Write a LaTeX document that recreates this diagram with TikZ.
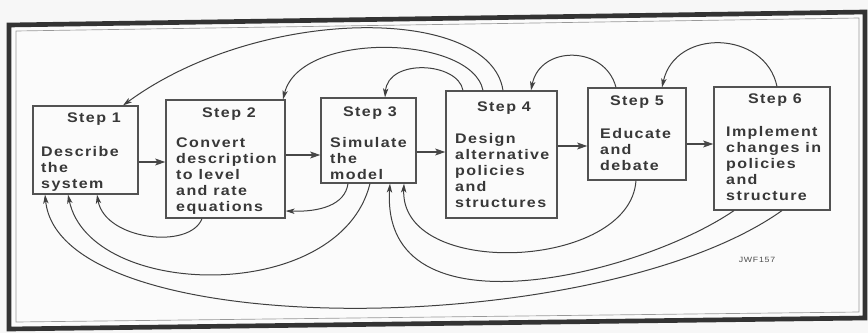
\documentclass[tikz,border=0pt]{standalone}
\usepackage{fontspec}
\setmainfont{Liberation Sans}
\newfontfamily\stepfont[FakeStretch=1.15,LetterSpace=10]{Liberation Sans}
\usetikzlibrary{arrows.meta,fit}

\begin{document}
\begin{tikzpicture}[x=0.3mm,y=-0.3mm,
  stepbox/.style={draw=black!68,line width=0.35mm,inner sep=0pt},
  title/.style={font=\stepfont\bfseries\fontsize{11.9}{13.66}\selectfont,text=black!78,inner sep=0pt,anchor=base},
  body/.style={font=\stepfont\bfseries\fontsize{11.9}{13.66}\selectfont,text=black!78,inner sep=0pt,align=left,anchor=north west},
  link/.style={draw=black!75,line width=0.3mm,-{Stealth[length=2.7mm,width=1.6mm,inset=0.7mm]}},
  push/.style={draw=black!72,line width=0.8mm,-{Stealth[length=3mm,width=2mm,inset=0.6mm]}},
  tag/.style={font=\stepfont\fontsize{6.5}{8}\selectfont,text=black!70,inner sep=0pt}
]
% paper and frame
\useasboundingbox (0,0) rectangle (868,333);
\fill[gray!6] (0,0) rectangle (868,333);
\fill[gray!3] (9,25) -- (865,12) -- (865,318) -- (9,329) -- cycle;
\draw[black!80,line width=1.4mm,line join=miter] (9,25) -- (865,12) -- (865,318) -- (9,329) -- cycle;
\draw[black!40,line width=0.2mm] (16,31) -- (859,18) -- (859,312) -- (16,322) -- cycle;

% the six steps
\node[stepbox,fit={(33,106) (138,194)}] (b1) {};
\node[stepbox,fit={(166,100) (285,218)}] (b2) {};
\node[stepbox,fit={(321,98) (416,183)}] (b3) {};
\node[stepbox,fit={(446,91) (557,218)}] (b4) {};
\node[stepbox,fit={(588,88) (686,180)}] (b5) {};
\node[stepbox,fit={(714,87) (830,210)}] (b6) {};

\node[title] (t1) at (94,122) {Step 1};
\node[title] (t2) at (229,117) {Step 2};
\node[title] (t3) at (370,116) {Step 3};
\node[title] (t4) at (504,111) {Step 4};
\node[title] (t5) at (637,105) {Step 5};
\node[title] (t6) at (775,103) {Step 6};

\node[body] (d1) at (41,146) {Describe\\the\\system};
\node[body] (d2) at (176,138) {Convert\\description\\to level\\and rate\\equations};
\node[body] (d3) at (330,137) {Simulate\\the\\model};
\node[body] (d4) at (455,133) {Design\\alternative\\policies\\and\\structures};
\node[body] (d5) at (600,128) {Educate\\and\\debate};
\node[body] (d6) at (726,126) {Implement\\changes in\\policies\\and\\structure};

% forward flow
\draw[push] (b1.east |- 0,162) -- (b2.west |- 0,162);
\draw[push] (b2.east |- 0,155) -- (b3.west |- 0,155);
\draw[push] (b3.east |- 0,152) -- (b4.west |- 0,152);
\draw[push] (b4.east |- 0,146) -- (b5.west |- 0,146);
\draw[push] (b5.east |- 0,144) -- (b6.west |- 0,144);

% feedback over the top
\draw[link] (b4.north -| 503,0) .. controls (490,5) and (260,5) .. (b1.north -| 123,0);
\draw[link] (b4.north -| 483,0) .. controls (472,35) and (300,30) .. (b2.north -| 283,0);
\draw[link] (b4.north -| 463,0) .. controls (458,62) and (388,58) .. (b3.north -| 385,0);
\draw[link] (b5.north -| 616,0) .. controls (605,45) and (540,45) .. (b4.north -| 531,0);
\draw[link] (b6.north -| 777,0) .. controls (765,30) and (675,28) .. (b5.north -| 662,0);

% feedback underneath
\draw[link] (b2.south -| 202,0) .. controls (190,250) and (105,240) .. (b1.south -| 97,0);
\draw[link] (b3.south -| 348,0) .. controls (345,205) and (320,212) .. (b2.east |- 0,211);
\draw[link] (b3.south -| 370,0) .. controls (340,305) and (90,300) .. (b1.south -| 68,0);
\draw[link] (b5.south -| 636,0) .. controls (630,270) and (400,280) .. (b3.south -| 404,0);
\draw[link] (b6.south -| 734,0) .. controls (640,275) and (380,340) .. (b3.south -| 390,0);
\draw[link] (b6.south -| 782,0) .. controls (600,340) and (60,345) .. (b1.south -| 45,0);

\node[tag] (jwf) at (757,260) {JWF157};
\end{tikzpicture}
\end{document}
